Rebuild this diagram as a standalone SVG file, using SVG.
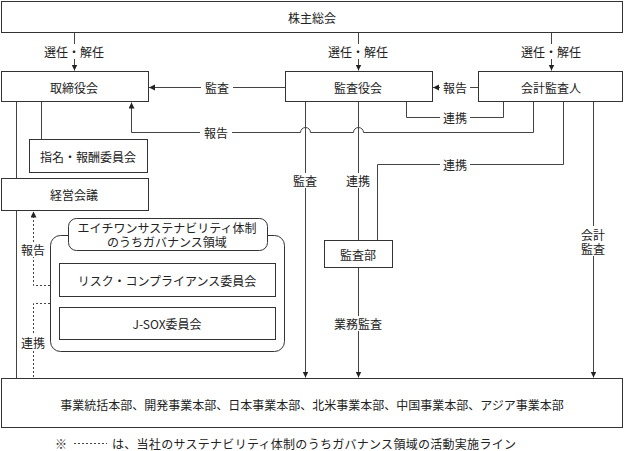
<svg xmlns="http://www.w3.org/2000/svg" width="625" height="451" viewBox="0 0 625 451">
<style>
.box{fill:#fff;stroke:#333;stroke-width:1}
.ln{fill:none;stroke:#444;stroke-width:1}
.dash{stroke-dasharray:2 2}
.bg{fill:#fff;stroke:none}
text{font-family:"Noto Sans CJK JP","Noto Sans CJK SC",sans-serif;font-size:12px;fill:#222;text-anchor:middle;dominant-baseline:central}
</style>
<defs>
<marker id="ah" markerWidth="7" markerHeight="7" refX="6" refY="3" orient="auto" markerUnits="userSpaceOnUse">
<path d="M0,0 L6,3 L0,6 z" fill="#222"/>
</marker>
</defs>
<rect width="625" height="451" fill="#fff"/>
<g id="connectors">
<path class="ln" d="M74.5,33 V70.5" marker-end="url(#ah)"/>
<path class="ln" d="M358.5,33 V70.5" marker-end="url(#ah)"/>
<path class="ln" d="M551.5,33 V70.5" marker-end="url(#ah)"/>
<path class="ln" d="M285,87.5 H149" marker-end="url(#ah)"/>
<path class="ln" d="M478,87.5 H433" marker-end="url(#ah)"/>
<path class="ln" d="M406.5,102 V117.5 H503.5 V102"/>
<path class="ln" d="M533.5,102 V132.5 H363.5 A5,5 0 0 0 353.5,132.5 H310.5 A5,5 0 0 0 300.5,132.5 H131.5 V102.5" marker-end="url(#ah)"/>
<path class="ln" d="M305.5,102 V377.5" marker-end="url(#ah)"/>
<path class="ln" d="M358.5,102 V240"/>
<path class="ln" d="M358.5,268 V377.5" marker-end="url(#ah)"/>
<path class="ln" d="M563.5,102 V164.5 H377.5 V240"/>
<path class="ln" d="M593.5,102 V377.5" marker-end="url(#ah)"/>
<path class="ln" d="M16.5,102 V378"/>
<path class="ln" d="M41.5,102 V139"/>
<path class="ln dash" d="M50,285.5 H33.5 V211.5" marker-end="url(#ah)"/>
<path class="ln dash" d="M50,303.5 H33.5 V378"/>
<rect class="bg" x="44" y="44" width="60" height="15"/><text x="74" y="51">選任・解任</text>
<rect class="bg" x="328" y="44" width="60" height="15"/><text x="358" y="51">選任・解任</text>
<rect class="bg" x="521" y="44" width="60" height="15"/><text x="551" y="51">選任・解任</text>
<rect class="bg" x="201" y="80" width="32" height="15"/><text x="217" y="87">監査</text>
<rect class="bg" x="440" y="80" width="30" height="15"/><text x="455" y="87">報告</text>
<rect class="bg" x="440" y="110" width="30" height="15"/><text x="455" y="117">連携</text>
<rect class="bg" x="200" y="125" width="32" height="15"/><text x="216" y="132">報告</text>
<rect class="bg" x="291" y="173" width="28" height="15"/><text x="305" y="180">監査</text>
<rect class="bg" x="344" y="173" width="28" height="15"/><text x="358" y="180">連携</text>
<rect class="bg" x="440" y="157" width="30" height="15"/><text x="455" y="164">連携</text>
<rect class="bg" x="579" y="226" width="28" height="30"/><text x="593" y="234"><tspan x="593">会計</tspan><tspan x="593" dy="14">監査</tspan></text>
<rect class="bg" x="332" y="316" width="52" height="15"/><text x="358" y="323">業務監査</text>
<rect class="bg" x="20" y="242" width="26" height="15"/><text x="33" y="249">報告</text>
<rect class="bg" x="20" y="335" width="26" height="15"/><text x="33" y="342">連携</text>
</g>
<g id="shareholders"><rect class="box" x="1.5" y="1.5" width="621" height="31"/><text x="312" y="17">株主総会</text></g>
<g id="board"><rect class="box" x="1.5" y="71.5" width="147" height="30"/><text x="74" y="87">取締役会</text></g>
<g id="audit-board"><rect class="box" x="285.5" y="71.5" width="147" height="30"/><text x="358" y="87">監査役会</text></g>
<g id="accounting-auditor"><rect class="box" x="478.5" y="71.5" width="144" height="30"/><text x="551" y="87">会計監査人</text></g>
<g id="nomination"><rect class="box" x="29.5" y="139.5" width="118" height="33"/><text x="88" y="156">指名・報酬委員会</text></g>
<g id="management"><rect class="box" x="1.5" y="178.5" width="147" height="32"/><text x="74" y="194">経営会議</text></g>
<g id="governance">
<rect class="box" x="50.5" y="235.5" width="234" height="116" rx="10"/>
<rect class="box" x="68.5" y="218.5" width="199" height="32" rx="8"/>
<text x="167" y="227"><tspan x="167">エイチワンサステナビリティ体制</tspan><tspan x="167" dy="14">のうちガバナンス領域</tspan></text>
</g>
<g id="risk"><rect class="box" x="59.5" y="263.5" width="216" height="33"/><text x="167" y="280">リスク・コンプライアンス委員会</text></g>
<g id="jsox"><rect class="box" x="59.5" y="307.5" width="216" height="32"/><text x="167" y="323">J-SOX委員会</text></g>
<g id="audit-dept"><rect class="box" x="324.5" y="240.5" width="68" height="27"/><text x="358" y="254">監査部</text></g>
<g id="business"><rect class="box" x="1.5" y="378.5" width="621" height="49"/><text x="312" y="404">事業統括本部、開発事業本部、日本事業本部、北米事業本部、中国事業本部、アジア事業本部</text></g>
<g id="note">
<text x="61" y="443">※</text>
<line class="ln dash" x1="74" y1="443.5" x2="107" y2="443.5"/>
<text x="112" y="443" style="text-anchor:start" textLength="404" lengthAdjust="spacing">は、当社のサステナビリティ体制のうちガバナンス領域の活動実施ライン</text>
</g>
</svg>
